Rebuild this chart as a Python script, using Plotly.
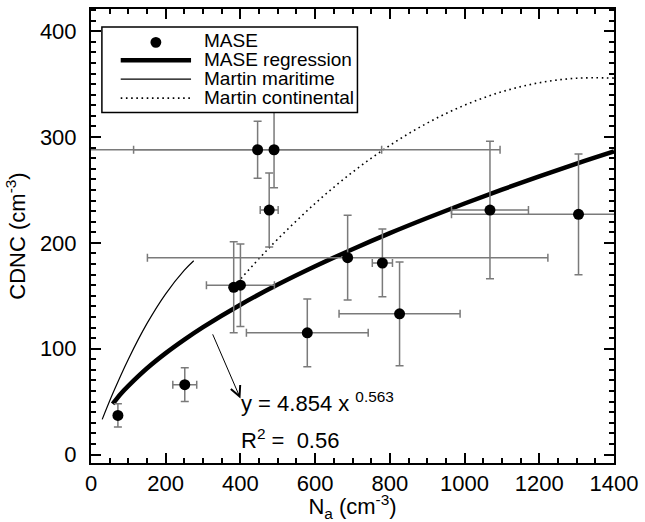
import plotly.graph_objects as go

# ---------------- data ----------------
mase_na = [72, 251, 382, 400, 446, 490, 477, 579, 687, 780, 826, 1068, 1305]
mase_cdnc = [37, 66, 158, 160, 288, 288, 231, 115, 186, 181, 133, 231, 227]
mase_na_err = [0, 32, 0, 91, 332, 605, 24, 163, 536, 27, 162, 103, 340]
mase_cdnc_err = [11, 16, 43, 39, 27, 36, 35, 32, 40, 32, 49, 65, 57]

reg_na = [58, 80, 100, 150, 200, 250, 300, 400, 500, 600, 700, 800, 900, 1000, 1100, 1200, 1300, 1400]
reg_cdnc = [47.8, 57.5, 64.9, 81.5, 95.8, 108.6, 120.4, 141.6, 160.6, 177.9, 194.0, 209.2, 223.5, 237.2, 250.3, 262.9, 275.0, 286.5]

mar_na = [30, 60, 100, 150, 200, 250, 275]
mar_cdnc = [33.2, 59.0, 90.1, 123.9, 151.9, 174.2, 183.1]

con_na = [392, 450, 500, 600, 700, 800, 900, 1000, 1100, 1200, 1300, 1400]
con_cdnc = [162.5, 185.2, 203.6, 237.3, 266.8, 292.1, 313.2, 330.1, 342.8, 351.3, 355.6, 355.7]

legend_labels = ["MASE", "MASE regression", "Martin maritime", "Martin continental"]
eq_text = "y = 4.854 x <sup>0.563</sup>"
r2_text = "R<sup>2</sup> = &nbsp;0.56"
x_title = "N<sub>a</sub> (cm<sup>-3</sup>)"
y_title = "CDNC (cm<sup>-3</sup>)"

# ---------------- layout geometry ----------------
W, H = 645, 522
ML, MR, MT, MB = 91, 26, 7, 59
PW, PH = W - ML - MR, H - MT - MB
FONT = "Liberation Sans, Arial, Helvetica, sans-serif"
XR = [0, 1400]
YR = [-8, 421]


def px(xp):
    return (xp - ML) / PW


def py(yp):
    return (H - MB - yp) / PH


fig = go.Figure()

fig.add_trace(go.Scatter(
    x=reg_na, y=reg_cdnc, mode="lines", line=dict(color="black", width=4.5, shape="spline"),
    showlegend=False, hoverinfo="skip"))
fig.add_trace(go.Scatter(
    x=mar_na, y=mar_cdnc, mode="lines", line=dict(color="black", width=1.2, shape="spline"),
    showlegend=False, hoverinfo="skip"))
fig.add_trace(go.Scatter(
    x=con_na, y=con_cdnc, mode="lines",
    line=dict(color="black", width=1.6, shape="spline", dash="1.6px,3.6px"),
    showlegend=False, hoverinfo="skip"))
fig.add_trace(go.Scatter(
    x=mase_na, y=mase_cdnc, mode="markers",
    marker=dict(color="black", size=11, line=dict(width=0)),
    error_x=dict(type="data", array=mase_na_err, visible=True, color="#7a7a7a", thickness=1.5, width=4),
    error_y=dict(type="data", array=mase_cdnc_err, visible=True, color="#7a7a7a", thickness=1.5, width=4),
    showlegend=False))

xminor = dict(dtick=50, ticks="inside", ticklen=5, tickwidth=2, tickcolor="black", showgrid=False)
yminor = dict(dtick=10, ticks="inside", ticklen=5, tickwidth=2, tickcolor="black", showgrid=False)
axis_common = dict(
    showline=True, linecolor="black", linewidth=2, mirror="allticks",
    ticks="inside", ticklen=10, tickwidth=2, tickcolor="black",
    showgrid=False, zeroline=False,
    tickfont=dict(family=FONT, size=22, color="black"),
    title_font=dict(family=FONT, size=22, color="black"),
)

fig.update_layout(
    width=W, height=H,
    margin=dict(l=ML, r=MR, t=MT, b=MB, pad=0),
    paper_bgcolor="white", plot_bgcolor="white",
    font=dict(family=FONT, color="black"),
    showlegend=False,
    xaxis=dict(range=XR, tick0=0, dtick=200, title=dict(text=x_title, standoff=3),
               minor=xminor, ticklabelstandoff=0, **axis_common),
    yaxis=dict(range=YR, tick0=0, dtick=100, title=dict(text=y_title, standoff=8),
               minor=yminor, ticklabelstandoff=8, **axis_common),
)

# equation and R^2
fig.add_annotation(x=396, y=50, xref="x", yref="y", text=eq_text, showarrow=False,
                   xanchor="left", yanchor="middle", font=dict(family=FONT, size=22, color="black"))
fig.add_annotation(x=396, y=15, xref="x", yref="y", text=r2_text, showarrow=False,
                   xanchor="left", yanchor="middle", font=dict(family=FONT, size=22, color="black"))
# arrow from curve to equation
fig.add_annotation(x=400, y=53, xref="x", yref="y", ax=324, ay=115, axref="x", ayref="y",
                   text="", showarrow=True, arrowhead=5, arrowsize=2, arrowwidth=1, arrowcolor="black",
                   standoff=0, startstandoff=0)

# ---------------- manual legend ----------------
box = dict(x0=102, x1=360, y0=25, y1=111)
fig.add_shape(type="rect", xref="paper", yref="paper", x0=px(box["x0"]), x1=px(box["x1"]),
              y0=py(box["y1"]), y1=py(box["y0"]), line=dict(color="black", width=1.5),
              fillcolor="white", layer="above")
rows = [38.5, 57.5, 76.5, 95.5]
sx0, sx1, tx = 121, 192, 203
r = 5.5
fig.add_shape(type="circle", xref="paper", yref="paper", x0=px(156.5 - r), x1=px(156.5 + r),
              y0=py(rows[0] + 2 + r), y1=py(rows[0] + 2 - r), fillcolor="black",
              line=dict(color="black", width=0), layer="above")
fig.add_shape(type="line", xref="paper", yref="paper", x0=px(sx0), x1=px(sx1), y0=py(rows[1] + 1), y1=py(rows[1] + 1),
              line=dict(color="black", width=4.5), layer="above")
fig.add_shape(type="line", xref="paper", yref="paper", x0=px(sx0), x1=px(sx1), y0=py(rows[2] + 1), y1=py(rows[2] + 1),
              line=dict(color="black", width=1.2), layer="above")
fig.add_shape(type="line", xref="paper", yref="paper", x0=px(sx0), x1=px(sx1), y0=py(rows[3] + 1), y1=py(rows[3] + 1),
              line=dict(color="black", width=1.6, dash="1.6px,3.6px"), layer="above")
for lab, yr in zip(legend_labels, rows):
    fig.add_annotation(x=px(tx), y=py(yr), xref="paper", yref="paper", text=lab, showarrow=False,
                       xanchor="left", yanchor="middle", font=dict(family=FONT, size=19, color="black"))

fig.write_html("out.html", config={"displayModeBar": False},
               post_script="document.body.style.margin='0';")
